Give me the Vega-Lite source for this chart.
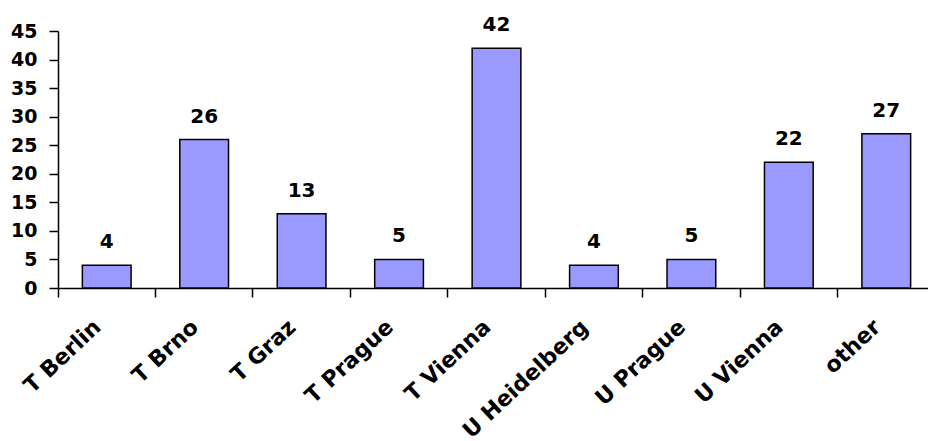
{
  "$schema": "https://vega.github.io/schema/vega-lite/v6.json",
  "autosize": "none",
  "width": 870,
  "height": 257,
  "padding": {"left": 58, "top": 31, "right": 0, "bottom": 153},
  "background": "white",
  "config": {"view": {"stroke": null}, "font": "DejaVu Sans"},
  "data": {"values": [
    {"cat": "T Berlin", "v": 4},
    {"cat": "T Brno", "v": 26},
    {"cat": "T Graz", "v": 13},
    {"cat": "T Prague", "v": 5},
    {"cat": "T Vienna", "v": 42},
    {"cat": "U Heidelberg", "v": 4},
    {"cat": "U Prague", "v": 5},
    {"cat": "U Vienna", "v": 22},
    {"cat": "other", "v": 27}
  ]},
  "encoding": {
    "x": {"field": "cat", "type": "nominal", "sort": null,
      "scale": {"range": [0, 877], "paddingInner": 0, "paddingOuter": 0},
      "axis": {"title": null, "domainColor": "black", "domainWidth": 1.5, "tickColor": "black", "tickWidth": 1.5, "tickSize": 9, "bandPosition": 0,
        "labelAngle": -43, "labelAlign": "right", "labelBaseline": "top", "labelPadding": 19, "labelOffset": -16,
        "labelFont": "DejaVu Sans", "labelFontWeight": "bold", "labelFontSize": 22, "labelColor": "black"}},
    "y": {"field": "v", "type": "quantitative",
      "scale": {"domain": [0, 45], "nice": false},
      "axis": {"title": null, "values": [0, 5, 10, 15, 20, 25, 30, 35, 40, 45], "grid": false, "domainColor": "black", "domainWidth": 1.5, "tickColor": "black", "tickWidth": 1.5, "tickSize": 9, "labelPadding": 12,
        "labelFont": "DejaVu Sans", "labelFontWeight": "bold", "labelFontSize": 19, "labelColor": "black"}}
  },
  "layer": [
    {"mark": {"type": "bar", "width": {"band": 0.5}, "fill": "#9999FF", "stroke": "black", "strokeWidth": 1.5}},
    {"mark": {"type": "text", "baseline": "alphabetic", "dy": -17, "font": "DejaVu Sans", "fontWeight": "bold", "fontSize": 20, "color": "black"},
      "encoding": {"text": {"field": "v", "type": "quantitative"}}}
  ]
}
